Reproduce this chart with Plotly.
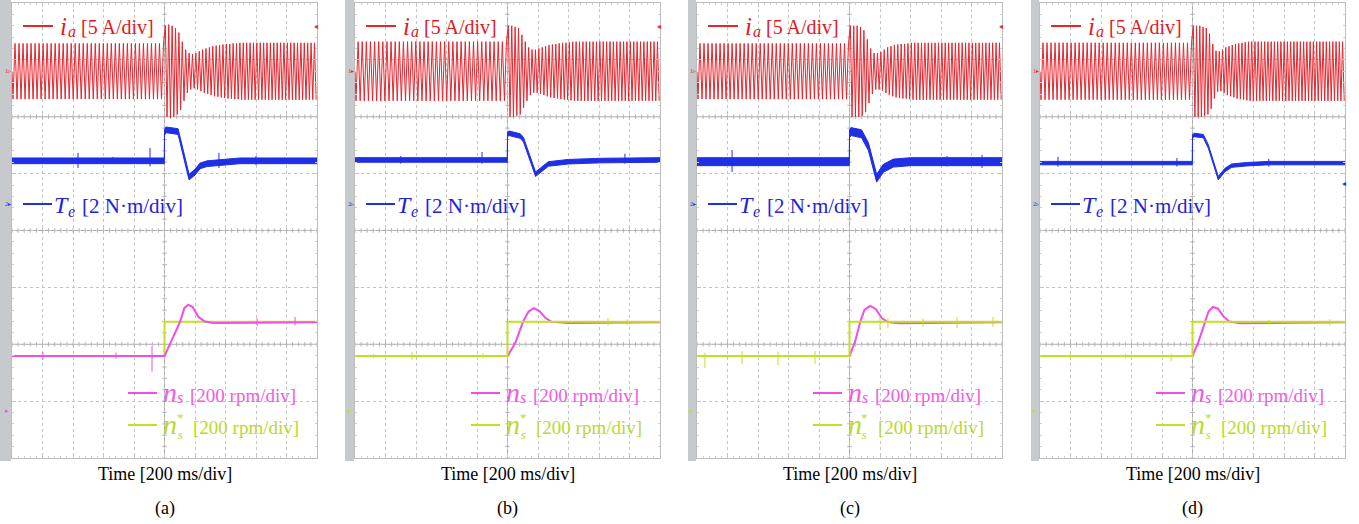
import numpy as np
import plotly.graph_objects as go

W, H = 1359, 524

# ---------------- text ----------------
panel_labels = ["(a)", "(b)", "(c)", "(d)"]
x_label = "Time [200 ms/div]"
ia_unit = "[5 A/div]"
te_unit = "[2 N·m/div]"
ns_unit = "[200 rpm/div]"

# ---------------- screen settings ----------------
# 10 x 8 divisions, 200 ms/div; channel zero levels in divisions from bottom
ia_zero_div = 6.8
te_zero_div = 4.45
ns_zero_div = 0.83
ia_per_div = 5.0      # A/div
te_per_div = 2.0      # N.m/div
ns_per_div = 200.0    # rpm/div
t_step = 1000         # ms

# ---------------- phase current i_a (peak values, A) ----------------
ia_pre_amp = [2.45, 2.6, 2.45, 2.5]
ia_cycles_pre = [38, 37, 38, 38]      # cycles shown before the step
ia_cycles_post = [45, 45, 45, 47]     # cycles shown after the step
ia_post_amp = [
    [4.0, 4.1, 4.0, 3.8, 3.4, 2.6, 1.9, 1.6, 1.5, 1.6, 1.75, 1.9, 2.0, 2.1, 2.2, 2.25, 2.3, 2.35, 2.4, 2.4, 2.45, 2.45],
    [4.0, 4.0, 3.9, 3.8, 3.2, 2.6, 2.1, 1.9, 1.9, 2.0, 2.1, 2.2, 2.3, 2.35, 2.4, 2.45, 2.5, 2.5, 2.55],
    [4.0, 4.0, 4.0, 3.9, 3.6, 2.8, 2.0, 1.6, 1.6, 1.7, 1.9, 2.1, 2.2, 2.3, 2.35, 2.4, 2.4, 2.45],
    [4.0, 4.0, 4.0, 3.9, 3.8, 3.3, 2.4, 1.8, 1.75, 1.9, 2.1, 2.2, 2.3, 2.4, 2.45, 2.5, 2.55],
]
ia_post_final = [2.5, 2.6, 2.5, 2.6]

# ---------------- electromagnetic torque T_e (N.m) ----------------
te_t = [
    [0, 999, 1000, 1010, 1089, 1161, 1200, 1233, 1279, 1400, 1495, 2000],
    [0, 999, 1000, 1010, 1084, 1105, 1184, 1213, 1268, 1400, 1618, 2000],
    [0, 999, 1000, 1010, 1079, 1124, 1178, 1222, 1288, 1400, 2000],
    [0, 999, 1000, 1010, 1071, 1104, 1169, 1213, 1257, 1355, 1500, 2000],
]
te_v = [
    [1.55, 1.55, 2.55, 2.64, 2.58, 0.98, 1.15, 1.37, 1.45, 1.5, 1.55, 1.55],
    [1.58, 1.58, 2.48, 2.52, 2.42, 2.29, 1.08, 1.21, 1.44, 1.52, 1.56, 1.58],
    [1.52, 1.52, 2.5, 2.58, 2.5, 2.05, 0.94, 1.29, 1.47, 1.52, 1.52],
    [1.47, 1.47, 2.4, 2.46, 2.42, 2.05, 0.94, 1.23, 1.38, 1.43, 1.47, 1.47],
]
te_band = [0.1, 0.08, 0.14, 0.06]   # half thickness of the noisy trace
te_spikes = [
    [(433, 1.3, 1.83), (662, 1.45, 1.69), (905, 1.35, 2.0), (1357, 1.3, 1.83), (1600, 1.4, 1.72)],
    [(833, 1.45, 1.86), (1770, 1.45, 1.8), (300, 1.45, 1.72)],
    [(230, 1.16, 1.93), (1640, 1.35, 1.72), (1869, 1.3, 1.76)],
    [(118, 1.35, 1.69), (898, 1.35, 1.65), (1500, 1.35, 1.62)],
]

# ---------------- speed n_s and reference n_s* (rpm) ----------------
ns_t = [
    [0, 1000, 1058, 1102, 1130, 1156, 1185, 1222, 1266, 1320, 2000],
    [0, 1001, 1051, 1102, 1138, 1174, 1213, 1250, 1289, 1398, 2000],
    [0, 1000, 1037, 1070, 1098, 1135, 1172, 1212, 1251, 1321, 2000],
    [0, 1000, 1040, 1077, 1105, 1134, 1167, 1203, 1241, 1311, 2000],
]
ns_v = [
    [193, 193, 261, 313, 361, 373, 365, 330, 314, 309, 311],
    [193, 193, 238, 313, 349, 361, 349, 326, 313, 309, 311],
    [193, 193, 244, 312, 355, 369, 358, 326, 312, 308, 311],
    [193, 193, 244, 308, 349, 365, 359, 332, 314, 308, 311],
]
nref_t = [0, 1000, 1000, 2000]
nref_v = [193, 193, 313, 313]
ns_spikes = [
    [(918, 138, 226), (203, 180, 207), (682, 183, 205), (1607, 298, 326), (1856, 300, 330)],
    [(374, 180, 207), (839, 185, 203), (1659, 300, 326), (1784, 302, 322), (120, 185, 200)],
    [(52, 151, 204), (295, 165, 210), (531, 160, 208), (774, 165, 210), (1200, 285, 330),
     (1252, 290, 325), (1482, 295, 325), (1705, 290, 330), (1941, 295, 330)],
    [(200, 185, 200), (560, 185, 200), (860, 175, 200), (1500, 302, 320), (1900, 302, 322)],
]

# ---------------- layout geometry (pixels) ----------------
plot_left = [12, 355, 697, 1040]
plot_w = 305
plot_top, plot_bot = 3, 458
strip_left = [0, 345, 688, 1031]

C_RED = "#e8242c"
C_BLUE = "#1f2fe6"
C_MAG = "#f04ee6"
C_GRN = "#c2df24"
T_RED = "#e3191f"
T_BLUE = "#2323dc"
T_MAG = "#f25ae6"
T_GRN = "#b9d92c"
FONT = "Liberation Serif"


def px(x):
    return x / W


def py(y):
    return 1 - y / H


fig = go.Figure()
shapes = []
annotations = []


def seg(x0, x1, y, col):
    shapes.append(dict(type="line", xref="paper", yref="paper", x0=px(x0), x1=px(x1),
                       y0=py(y), y1=py(y), line=dict(color=col, width=2)))


def txt(x, y, s, col, size=19, anchor="left"):
    annotations.append(dict(xref="paper", yref="paper", x=px(x), y=py(y), text=s,
                            showarrow=False, xanchor=anchor, yanchor="middle", borderpad=0,
                            font=dict(family=FONT, size=size, color=col)))


for i in range(4):
    sfx = "" if i == 0 else str(i + 1)
    xr, yr = "x" + sfx, "y" + sfx
    L = plot_left[i]
    R = L + plot_w

    fig.update_layout(**{
        "xaxis" + sfx: dict(
            domain=[px(L), px(R)], range=[0, 2000], anchor=yr,
            showgrid=True, dtick=200, tick0=0, griddash="dot", gridcolor="#c4c4c4", gridwidth=1,
            showticklabels=False, zeroline=False, showline=True, linecolor="#bdbdbd",
            mirror="allticks", ticks="inside", ticklen=4, tickcolor="#c4c4c4",
            minor=dict(dtick=40, ticks="inside", ticklen=2, tickcolor="#cfcfcf", showgrid=False),
            fixedrange=True),
        "yaxis" + sfx: dict(
            domain=[py(plot_bot), py(plot_top)], range=[0, 8], anchor=xr,
            showgrid=True, dtick=1, tick0=0, griddash="dot", gridcolor="#c4c4c4", gridwidth=1,
            showticklabels=False, zeroline=False, showline=True, linecolor="#bdbdbd",
            mirror="allticks", ticks="inside", ticklen=4, tickcolor="#c4c4c4",
            minor=dict(dtick=0.2, ticks="inside", ticklen=2, tickcolor="#cfcfcf", showgrid=False),
            fixedrange=True),
    })

    # grey strip at left of the scope screen
    shapes.append(dict(type="rect", xref="paper", yref="paper",
                       x0=px(strip_left[i]), x1=px(L - 1), y0=py(461), y1=py(0),
                       fillcolor="#c6cacd", line=dict(width=0), layer="below"))
    # solid centre / separator lines
    shapes.append(dict(type="line", xref=xr, yref=yr, x0=1000, x1=1000, y0=0, y1=8,
                       line=dict(color="#a9a9a9", width=1), layer="below"))
    for yy in (2, 4, 6):
        shapes.append(dict(type="line", xref=xr, yref=yr, x0=0, x1=2000, y0=yy, y1=yy,
                           line=dict(color="#a9a9a9", width=1), layer="below"))

    # small tick marks on the solid lines (graticule decoration)
    tx, ty = [], []
    for yy in (2, 4, 6):
        for tt in np.arange(0, 2001, 40):
            tx += [tt, tt, None]
            ty += [yy - 0.04, yy + 0.04, None]
    for yy in np.arange(0, 8.001, 0.2):
        tx += [985, 1015, None]
        ty += [yy, yy, None]
    fig.add_trace(go.Scatter(x=tx, y=ty, xaxis=xr, yaxis=yr, mode="lines",
                             line=dict(color="#b5b5b5", width=1), hoverinfo="skip", showlegend=False))

    # ---- i_a : connect the half-cycle peaks ----
    ct, cv = [0], [ia_zero_div]
    n_pre = 2 * ia_cycles_pre[i]
    d_pre = t_step / n_pre
    for k in range(n_pre):
        sgn = -1 if k % 2 == 0 else 1
        ct.append(d_pre * (k + 0.5))
        cv.append(ia_zero_div + sgn * ia_pre_amp[i] / ia_per_div)
    n_post = 2 * ia_cycles_post[i]
    d_post = (2000 - t_step) / n_post
    for k in range(n_post):
        sgn = 1 if k % 2 == 0 else -1
        amp = ia_post_amp[i][k // 2] if k // 2 < len(ia_post_amp[i]) else ia_post_final[i]
        ct.append(t_step + d_post * (k + 0.5))
        cv.append(ia_zero_div + sgn * amp / ia_per_div)
    fig.add_trace(go.Scatter(x=ct, y=cv, xaxis=xr, yaxis=yr, mode="lines",
                             line=dict(color=C_RED, width=1), hoverinfo="skip", showlegend=False))

    # ---- T_e : noisy band + line ----
    tv = np.array(te_v[i]) / te_per_div + te_zero_div
    hw = te_band[i] / te_per_div
    bx = list(te_t[i]) + list(te_t[i][::-1])
    by = list(tv + hw) + list((tv - hw)[::-1])
    fig.add_trace(go.Scatter(x=bx, y=by, xaxis=xr, yaxis=yr, mode="lines", fill="toself",
                             fillcolor=C_BLUE, line=dict(color=C_BLUE, width=1),
                             hoverinfo="skip", showlegend=False))
    sx, sy = [], []
    for (tt, lo, hi) in te_spikes[i]:
        sx += [tt, tt, None]
        sy += [lo / te_per_div + te_zero_div, hi / te_per_div + te_zero_div, None]
    fig.add_trace(go.Scatter(x=sx, y=sy, xaxis=xr, yaxis=yr, mode="lines",
                             line=dict(color=C_BLUE, width=1), hoverinfo="skip", showlegend=False))

    # ---- speed ----
    ns_y = [v / ns_per_div + ns_zero_div for v in ns_v[i]]
    nr_y = [v / ns_per_div + ns_zero_div for v in nref_v]
    tr_ns = go.Scatter(x=ns_t[i], y=ns_y, xaxis=xr, yaxis=yr, mode="lines",
                       line=dict(color=C_MAG, width=2), hoverinfo="skip", showlegend=False)
    tr_nr = go.Scatter(x=nref_t, y=nr_y, xaxis=xr, yaxis=yr, mode="lines",
                       line=dict(color=C_GRN, width=2), hoverinfo="skip", showlegend=False)
    spike_col = C_MAG if i == 0 else C_GRN
    sx, sy = [], []
    for (tt, lo, hi) in ns_spikes[i]:
        sx += [tt, tt, None]
        sy += [lo / ns_per_div + ns_zero_div, hi / ns_per_div + ns_zero_div, None]
    tr_sp = go.Scatter(x=sx, y=sy, xaxis=xr, yaxis=yr, mode="lines",
                       line=dict(color=spike_col, width=1), hoverinfo="skip", showlegend=False)
    if i == 0:
        fig.add_trace(tr_nr)
        fig.add_trace(tr_ns)
    else:
        fig.add_trace(tr_ns)
        fig.add_trace(tr_nr)
    fig.add_trace(tr_sp)

    # ---- labels (legend-like) ----
    seg(L + 11, L + 41, 26, C_RED)
    txt(L + 47, 26, "<i>i</i>", T_RED, 25)
    txt(L + 55, 32, "<i>a</i>", T_RED, 16)
    txt(L + 68, 27, ia_unit, T_RED, 20)

    seg(L + 11, L + 40, 204, C_BLUE)
    txt(L + 41, 205, "<i>T</i>", T_BLUE, 24)
    txt(L + 55, 211, "<i>e</i>", T_BLUE, 16)
    txt(L + 69, 206, te_unit, T_BLUE, 21)

    seg(L + 116, L + 145, 393, C_MAG)
    txt(L + 150, 392, "<i>n</i>", T_MAG, 28)
    txt(L + 164, 397, "<i>s</i>", T_MAG, 16)
    txt(L + 177, 395, ns_unit, T_MAG, 19)

    seg(L + 116, L + 145, 425, C_GRN)
    txt(L + 150, 424, "<i>n</i>", T_GRN, 28)
    # superscript star stacked above the subscript s (one text block)
    annotations.append(dict(xref="paper", yref="paper", x=px(L + 168), y=py(426),
                            text="*<br><i>s</i>", showarrow=False, xanchor="center",
                            yanchor="middle", borderpad=0, align="center",
                            font=dict(family=FONT, size=13, color=T_GRN)))
    txt(L + 180, 427, ns_unit, T_GRN, 19)

    # channel markers
    txt(L - 8, 71, "1▸" if i in (1, 3) else "1▹", C_RED, 6)
    txt(L - 8, 204, "2▸" if i in (0, 2) else "2▹", C_BLUE, 6)
    txt(L - 8, 411, "▸", C_MAG if i == 0 else C_GRN, 7)
    if i < 3:
        txt(R - 4, 26, "◂", C_RED, 8)
    else:
        txt(R - 4, 184, "◂", C_BLUE, 8)

    # axis title and panel label
    txt(L + plot_w / 2, 474, x_label, "#000000", 18, "center")
    txt(L + plot_w / 2, 508, panel_labels[i], "#000000", 18, "center")

fig.update_layout(width=W, height=H, margin=dict(l=0, r=0, t=0, b=0),
                  paper_bgcolor="white", plot_bgcolor="white",
                  shapes=shapes, annotations=annotations, showlegend=False)

fig.write_html("out.html", config={"displayModeBar": False},
               post_script="document.body.style.margin='0px';")
